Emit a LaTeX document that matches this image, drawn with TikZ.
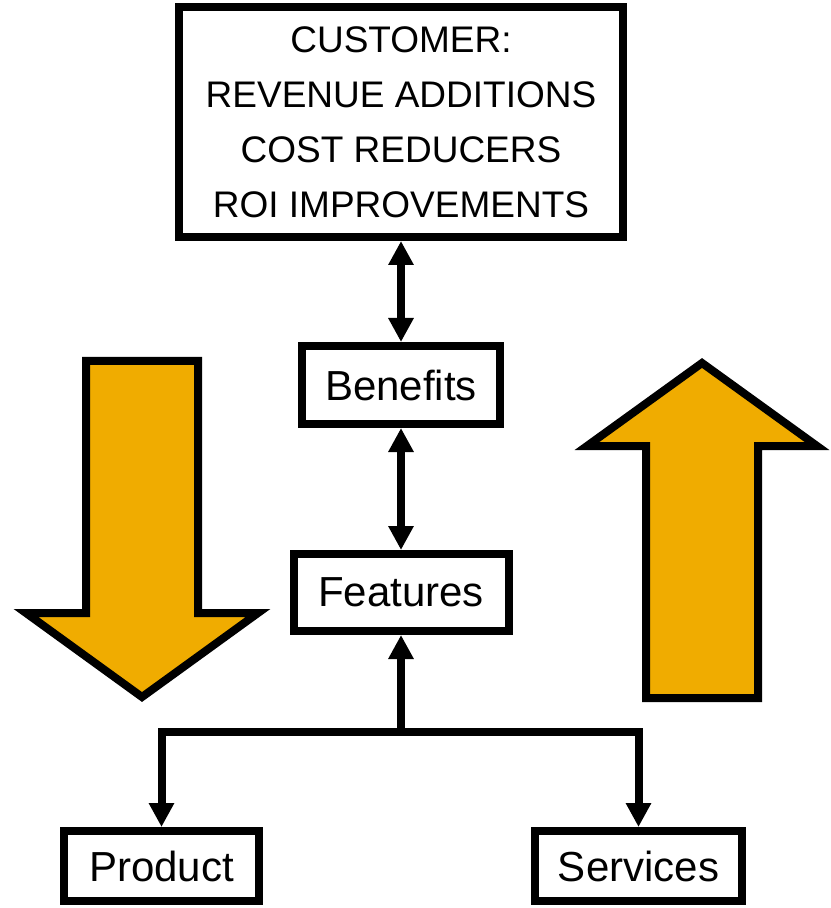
\documentclass[tikz,border=0pt]{standalone}
\usepackage{fontspec}
\setmainfont{Liberation Sans}
\usetikzlibrary{arrows.meta}
\definecolor{arrowgold}{RGB}{240,172,0}

\begin{document}
\begin{tikzpicture}[x=0.5pt, y=-0.5pt, >={Triangle[width=12pt,length=12pt]},
  box/.style={draw, line width=4pt, fill=white, inner sep=0pt, align=center},
  link/.style={line width=4pt},
  bigarrow/.style={draw, line width=4pt, fill=arrowgold, miter limit=10}]

  \useasboundingbox (0,0) rectangle (830,908);

  % Customer box on top
  \node[box, minimum width=222pt, minimum height=115pt,
        font=\fontsize{18.5}{27.5}\selectfont] (customer) at (401,122)
    {CUSTOMER:\\REVENUE ADDITIONS\\COST REDUCERS\\ROI IMPROVEMENTS};

  % Middle chain
  \node[box, minimum width=99pt, minimum height=39pt,
        font=\fontsize{21}{25}\selectfont] (benefits) at (401,385) {Benefits};
  \node[box, minimum width=107.5pt, minimum height=38.5pt,
        font=\fontsize{21}{25}\selectfont] (features) at (401,592.5) {Features};

  % Bottom boxes
  \node[box, minimum width=97.5pt, minimum height=35pt,
        font=\fontsize{21}{25}\selectfont] (product) at (161.5,866) {Product};
  \node[box, minimum width=103.5pt, minimum height=35pt,
        font=\fontsize{21}{25}\selectfont] (services) at (638.5,866) {Services};

  \coordinate (split) at (401,732);

  % Connectors
  \draw[link, <->] (customer) -- (benefits);
  \draw[link, <->] (benefits) -- (features);
  \draw[link, ->] (split) -- (features);
  \draw[link, ->] (split) -| (product.north);
  \draw[link, ->] (split) -| (services.north);

  % Big block arrows
  \draw[bigarrow] (86,361) -- (198,361) -- (198,613) -- (258,613) -- (142,697)
    -- (26,613) -- (86,613) -- cycle;
  \draw[bigarrow] (646,698) -- (758,698) -- (758,446) -- (817,446) -- (702,363)
    -- (587,446) -- (646,446) -- cycle;

\end{tikzpicture}
\end{document}
